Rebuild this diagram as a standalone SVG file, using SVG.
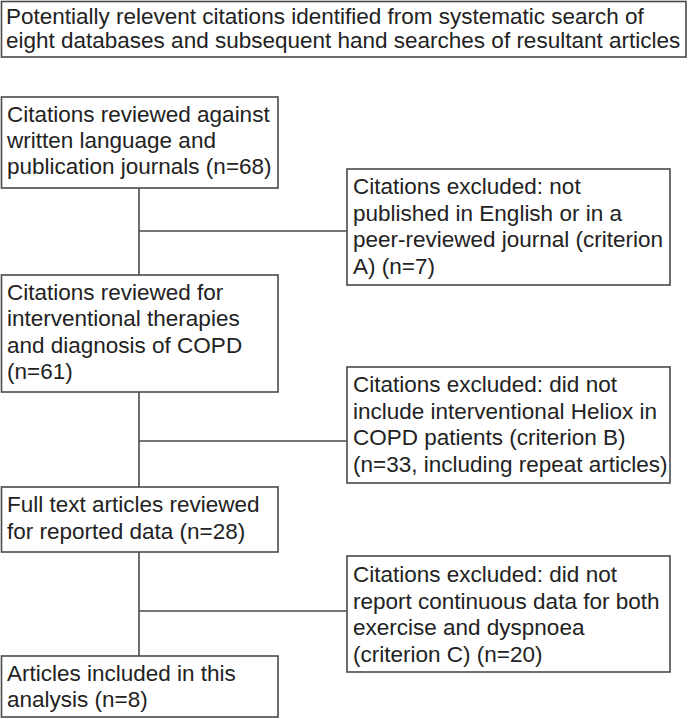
<svg xmlns="http://www.w3.org/2000/svg" width="688" height="719" viewBox="0 0 688 719">
<style>
.box{fill:#fff;stroke:#4a4a4a;stroke-width:1.6}
.ln{stroke:#4a4a4a;stroke-width:1.6;fill:none}
text{font-family:"Liberation Sans",Arial,sans-serif;font-size:22.5px;fill:#222}
</style>
<rect width="688" height="719" fill="#fff"/>
<g id="connectors">
<line class="ln" x1="139" y1="188" x2="139" y2="275"/>
<line class="ln" x1="139" y1="231" x2="347" y2="231"/>
<line class="ln" x1="139" y1="392" x2="139" y2="487"/>
<line class="ln" x1="139" y1="441" x2="347" y2="441"/>
<line class="ln" x1="139" y1="552" x2="139" y2="656"/>
<line class="ln" x1="139" y1="611" x2="347" y2="611"/>
</g>
<g id="n0">
<rect class="box" x="1.5" y="1.5" width="684.5" height="55.5"/>
<text x="6" y="23.5">Potentially relevent citations identified from systematic search of</text>
<text x="6" y="48">eight databases and subsequent hand searches of resultant articles</text>
</g>
<g id="n1">
<rect class="box" x="1.5" y="97" width="276.5" height="91"/>
<text x="7" y="122">Citations reviewed against</text>
<text x="7" y="148">written language and</text>
<text x="7" y="174">publication journals (n=68)</text>
</g>
<g id="nA">
<rect class="box" x="347" y="169" width="323" height="116"/>
<text x="353" y="194">Citations excluded: not</text>
<text x="353" y="220.5">published in English or in a</text>
<text x="353" y="247">peer-reviewed journal (criterion</text>
<text x="353" y="273.5">A) (n=7)</text>
</g>
<g id="n2">
<rect class="box" x="1.5" y="275" width="276.5" height="117"/>
<text x="7" y="299.5">Citations reviewed for</text>
<text x="7" y="326">interventional therapies</text>
<text x="7" y="352.5">and diagnosis of COPD</text>
<text x="7" y="379">(n=61)</text>
</g>
<g id="nB">
<rect class="box" x="347" y="367" width="323" height="116"/>
<text x="353" y="392">Citations excluded: did not</text>
<text x="353" y="418.5">include interventional Heliox in</text>
<text x="353" y="445">COPD patients (criterion B)</text>
<text x="353" y="471.5">(n=33, including repeat articles)</text>
</g>
<g id="n3">
<rect class="box" x="1.5" y="487" width="276.5" height="65"/>
<text x="7" y="512">Full text articles reviewed</text>
<text x="7" y="538.5">for reported data (n=28)</text>
</g>
<g id="nC">
<rect class="box" x="347" y="556" width="323" height="116"/>
<text x="353" y="582">Citations excluded: did not</text>
<text x="353" y="608.5">report continuous data for both</text>
<text x="353" y="635">exercise and dyspnoea</text>
<text x="353" y="661.5">(criterion C) (n=20)</text>
</g>
<g id="n4">
<rect class="box" x="1.5" y="656" width="276.5" height="61"/>
<text x="7" y="680.5">Articles included in this</text>
<text x="7" y="707">analysis (n=8)</text>
</g>
</svg>
